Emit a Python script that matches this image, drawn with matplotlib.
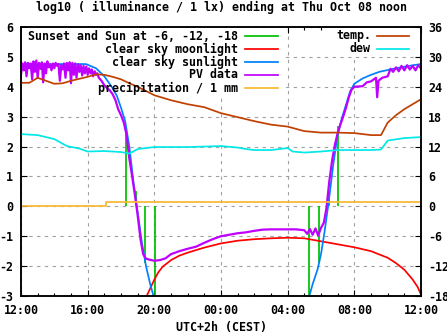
import matplotlib
matplotlib.use('Agg')
import matplotlib.pyplot as plt
from matplotlib.lines import Line2D
from matplotlib.patches import Rectangle

# time axis: hours after 12:00 (Wed) up to 12:00 (Thu Oct 08)
x_ticks = [0, 4, 8, 12, 16, 20, 24]
x_tick_labels = ['12:00', '16:00', '20:00', '00:00', '04:00', '08:00', '12:00']

# sunset / sun at -6, -12, -18 (evening) and -18, -12, -6, sunrise (morning)
sun_hours = [6.33, 6.87, 7.47, 8.07, 17.3, 17.9, 18.5, 19.05]
sun_marks = [2.55, 0.5, -1.9, -3.5, -3.5, -1.9, 0.5, 2.7]

# clear sky moonlight, log10 lx
moon_hours = [7.5, 7.75, 8.0, 8.25, 8.5, 9.0, 9.5, 10, 11, 12, 13, 14, 15, 16,
              17, 18, 19, 20, 21, 22, 22.5, 23, 23.5, 23.8, 24]
moon_log = [-3.05, -2.75, -2.45, -2.2, -2.02, -1.8, -1.65, -1.55, -1.38, -1.24,
            -1.15, -1.1, -1.07, -1.05, -1.07, -1.17, -1.27, -1.37, -1.5, -1.72,
            -1.9, -2.12, -2.45, -2.7, -2.95]

# clear sky sunlight, log10 lx (evening and morning parts)
sun_eve_hours = [0, 3.9, 4.5, 5.0, 5.5, 5.75, 6.0, 6.25, 6.5, 6.75, 7.0, 7.25, 7.5, 7.75, 8.0]
sun_eve_log = [4.76, 4.76, 4.62, 4.35, 3.95, 3.7, 3.3, 2.85, 2.0, 0.8, -0.2, -1.2, -2.0, -2.6, -3.1]
sun_morn_hours = [17.2, 17.5, 17.8, 18.0, 18.2, 18.45, 18.75, 19.0, 19.25, 19.5, 19.75,
                  20.0, 20.5, 21.0, 21.5, 22.0, 22.5, 23.0, 23.5, 24.0]
sun_morn_log = [-3.2, -2.6, -2.1, -1.6, -0.9, 0.1, 1.45, 2.4, 2.95, 3.4, 3.85,
                4.1, 4.28, 4.4, 4.5, 4.56, 4.62, 4.67, 4.72, 4.76]

# PV sensor data, log10 lx
pv_hours = [0.0, 0.08, 0.17, 0.25, 0.33, 0.42, 0.5, 0.58, 0.67, 0.75, 0.83, 0.92,
            1.0, 1.08, 1.17, 1.25, 1.33, 1.42, 1.5, 1.58, 1.67, 1.75, 1.83, 1.92,
            2.0, 2.08, 2.17, 2.25, 2.33, 2.42, 2.5, 2.58, 2.67, 2.75, 2.83, 2.92,
            3.0, 3.08, 3.17, 3.25, 3.33, 3.42, 3.5, 3.58, 3.67, 3.75, 3.83, 3.92,
            4.0, 4.08, 4.17, 4.25, 4.33, 4.42, 4.5, 4.58, 4.67,
            4.83, 5.0, 5.17, 5.33, 5.5, 5.67, 5.83,
            6.0, 6.17, 6.33, 6.5, 6.67, 6.83, 7.0, 7.17, 7.33, 7.5, 7.67, 8.0,
            8.33, 8.67, 9.0, 9.5, 10.0, 10.5, 11.0, 11.5, 12.0, 12.5, 13.0, 13.5,
            14.0, 14.5, 15.0, 15.5, 16.0, 16.5, 17.0, 17.17, 17.33, 17.5, 17.67,
            17.83, 18.0, 18.17, 18.33, 18.5, 18.67, 18.83, 19.0, 19.17, 19.33,
            19.5, 19.67, 19.83, 20.0, 20.5, 20.75, 21.0, 21.3, 21.37, 21.45,
            21.67, 22.0, 22.17, 22.33, 22.5, 22.67, 22.83, 23.0, 23.17, 23.33,
            23.5, 23.67, 23.83, 24.0]
pv_log = [4.40, 4.78, 4.55, 4.82, 4.35, 4.80, 4.62, 4.78, 4.25, 4.85, 4.50, 4.88,
          4.30, 4.80, 4.60, 4.82, 4.15, 4.78, 4.45, 4.85, 4.65, 4.75, 4.55, 4.78,
          4.62, 4.80, 4.70, 4.76, 4.20, 4.72, 4.58, 4.78, 4.30, 4.80, 4.55, 4.82,
          4.12, 4.80, 4.40, 4.78, 4.30, 4.75, 4.50, 4.72, 4.38, 4.70, 4.45, 4.68,
          4.40, 4.62, 4.45, 4.58, 4.35, 4.52, 4.40, 4.45, 4.30,
          4.20, 4.05, 3.95, 3.88, 3.75, 3.55, 3.25,
          3.05, 2.8, 2.4, 1.6, 1.0, 0.4, -0.3, -1.1, -1.6, -1.75, -1.78, -1.82,
          -1.80, -1.74, -1.6, -1.5, -1.42, -1.35, -1.22, -1.10, -1.0, -0.95, -0.9, -0.87,
          -0.82, -0.78, -0.77, -0.77, -0.77, -0.77, -0.80, -0.92, -0.76, -0.95, -0.74,
          -0.98, -0.72, -0.55, -0.05, 0.85, 1.55, 2.05, 2.45, 2.75, 3.0,
          3.3, 3.65, 3.9, 4.0, 4.02, 4.15, 4.18, 4.3, 3.65, 4.2,
          4.3, 4.35, 4.6, 4.5, 4.65, 4.52, 4.7, 4.55, 4.72, 4.58,
          4.7, 4.55, 4.72, 4.62]

# precipitation, log10 of mm
rain_hours = [0, 5.1, 24]
rain_log = [0.0, 0.15, 0.15]

# temperature and dew point, deg C (right axis)
temp_hours = [0, 0.5, 1, 1.5, 2, 2.5, 3, 3.5, 4, 4.5, 5, 5.5, 6, 6.5, 7, 8, 9, 10,
              11, 12, 13, 14, 15, 16, 17, 18, 19, 20, 21, 21.6, 22, 22.5, 23, 23.5, 24]
temp_c = [24.8, 24.8, 25.8, 25.2, 24.6, 24.7, 25.2, 25.6, 26.0, 26.5, 26.4, 26.0,
          25.5, 24.7, 24.0, 22.3, 21.3, 20.5, 19.9, 18.7, 17.9, 17.1, 16.4, 16.0,
          15.1, 14.8, 14.8, 14.7, 14.3, 14.3, 16.8, 18.3, 19.5, 20.5, 21.5]
dew_hours = [0, 1, 2, 2.75, 3.5, 4, 5, 6, 6.5, 7, 8, 9, 10, 11, 12, 13, 13.5, 14,
             15, 16, 16.3, 17, 18, 19, 20, 21, 21.6, 22, 23, 24]
dew_c = [14.5, 14.3, 13.5, 12.1, 11.6, 11.0, 11.1, 10.9, 10.6, 11.5, 11.9, 11.9,
         11.9, 12.0, 12.1, 11.8, 11.5, 11.3, 11.3, 11.7, 11.0, 10.8, 11.0, 11.3,
         11.3, 11.3, 11.4, 13.2, 13.7, 13.9]

c_green = '#00c000'
c_red = '#ff0000'
c_blue = '#0080ff'
c_purple = '#c000ff'
c_gold = '#f8b830'
c_brown = '#c04000'
c_cyan = '#00e8e8'

plt.rcParams['font.family'] = ['DejaVu Sans Mono']
plt.rcParams['font.weight'] = 'bold'
plt.rcParams['font.size'] = 8.4
plt.rcParams['axes.unicode_minus'] = False

W, H = 447, 335
fig = plt.figure(figsize=(W/100, H/100), dpi=100)
ax = fig.add_axes((21/W, 1 - 296/H, 400/W, 269/H))


def fig_xy(px, py):
	return px/W, 1 - py/H


lw = 1.25
ax.vlines(sun_hours, 0, sun_marks, color=c_green, lw=lw, zorder=2)
ax.plot(moon_hours, moon_log, color=c_red, lw=lw, zorder=2)
ax.plot(sun_eve_hours, sun_eve_log, color=c_blue, lw=lw, zorder=2)
ax.plot(sun_morn_hours, sun_morn_log, color=c_blue, lw=lw, zorder=2)
ax.plot(pv_hours, pv_log, color=c_purple, lw=1.6, zorder=2)
ax.plot(rain_hours, rain_log, color=c_gold, lw=lw, drawstyle='steps-post', zorder=2)

ax.set_xlim(0, 24)
ax.set_ylim(-3, 6)
ax.set_xticks(x_ticks)
ax.set_xticklabels(x_tick_labels)
ax.set_xticks(range(0, 25), minor=True)
ax.set_yticks(range(-3, 7))
ax.set_axisbelow(True)
ax.grid(True, which='major', color='#a0a0a0', linestyle=(0, (3, 4)), linewidth=0.8)
ax.tick_params(axis='both', which='both', direction='in', top=True, right=False)
ax.tick_params(axis='both', which='major', length=4, width=0.8, pad=5.8)
ax.tick_params(axis='x', which='minor', length=2.5, width=0.8)
for sp in ax.spines.values():
	sp.set_linewidth(1.1)

# title and x label placed like the gnuplot output
fig.text(*fig_xy(221.5, 7), 'log10 ( illuminance / 1 lx) ending at Thu Oct 08 noon',
	ha='center', va='center')
fig.text(*fig_xy(221, 328), 'UTC+2h (CEST)', ha='center', va='center')

ax2 = ax.twinx()
ax2.plot(temp_hours, temp_c, color=c_brown, lw=lw)
ax2.plot(dew_hours, dew_c, color=c_cyan, lw=lw)
ax2.set_ylim(-18, 36)
ax2.set_yticks(range(-18, 37, 6))
ax2.tick_params(axis='y', direction='in', length=4, width=0.8, pad=5)
for sp in ax2.spines.values():
	sp.set_linewidth(1.1)

# key areas hide the grid
for x0, y0, x1, y1 in [(22, 28, 282, 95), (325, 28, 414, 56)]:
	fx0, fy1 = fig_xy(x0, y0)
	fx1, fy0 = fig_xy(x1, y1)
	ax.add_patch(Rectangle((fx0, fy0), fx1 - fx0, fy1 - fy0, transform=fig.transFigure,
		facecolor='white', edgecolor='none', zorder=0.9))

left_key = [
	('Sunset and Sun at -6, -12, -18', c_green),
	('clear sky moonlight', c_red),
	('clear sky sunlight', c_blue),
	('PV data', c_purple),
	('precipitation / 1 mm', c_gold),
]
right_key = [('temp.', c_brown), ('dew', c_cyan)]

for keys, tx, lx0, lx1 in [(left_key, 238, 245, 278), (right_key, 371, 377, 409)]:
	for i, (label, col) in enumerate(keys):
		py = 36 + 13*i
		fx, fy = fig_xy(tx, py)
		fig.text(fx, fy, label, ha='right', va='center')
		a, b = fig_xy(lx0, py)
		c, _ = fig_xy(lx1, py)
		fig.add_artist(Line2D([a, c], [b, b], color=col, lw=lw))

fig.savefig('out.png', dpi=100)
